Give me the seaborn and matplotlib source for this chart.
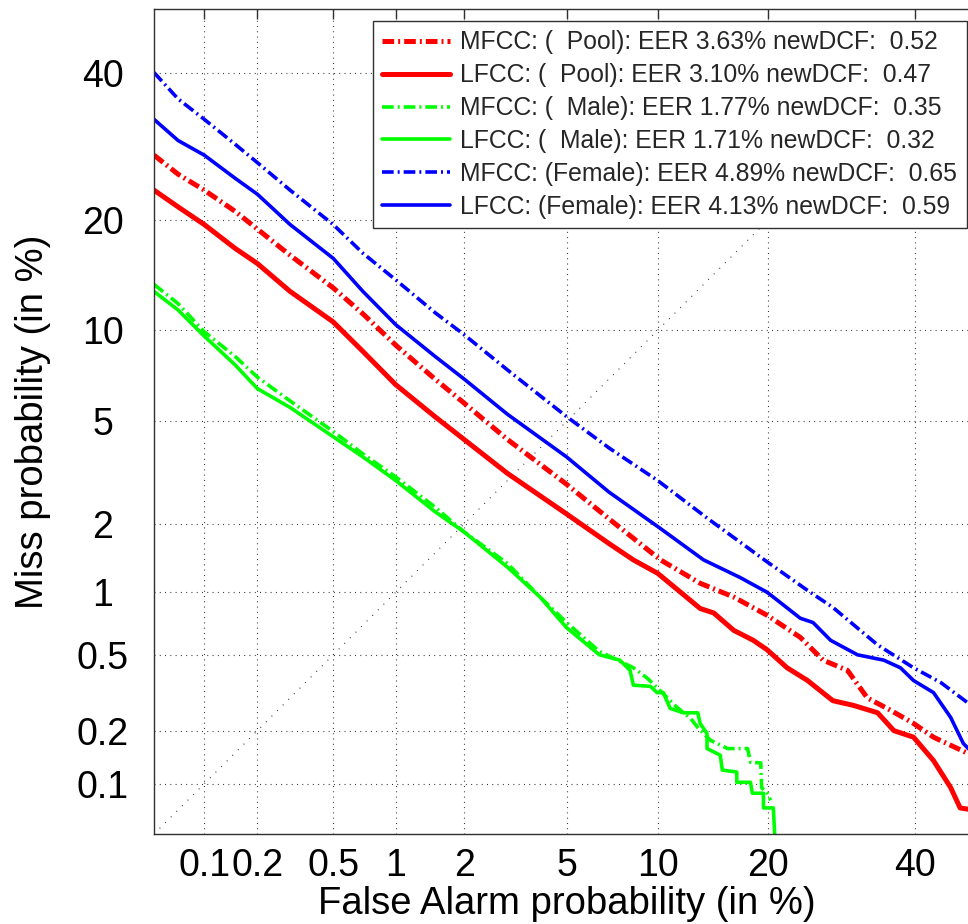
import math
import numpy as np
import matplotlib
matplotlib.use('Agg')
import matplotlib.pyplot as plt
import seaborn as sns

# DET curves: false alarm (%) and miss (%)
mfcc_pool_fa = [0.05, 0.07, 0.1, 0.15, 0.2, 0.3, 0.5, 0.7, 1.0, 1.5, 2.0, 3.0, 5.0, 7.0,
                10.2, 13.3, 16.4, 19.9, 23.8, 26.7, 30.0, 32.8, 36.2, 39.7, 42.8, 49.0]
mfcc_pool_miss = [28.0, 25.5, 23.5, 21.0, 19.0, 16.3, 13.3, 11.2, 9.0, 7.0, 5.8, 4.3, 2.9, 2.1,
                  1.40, 1.10, 0.95, 0.78, 0.61, 0.47, 0.417, 0.30, 0.258, 0.219, 0.184, 0.145]

lfcc_pool_fa = [0.05, 0.07, 0.1, 0.15, 0.2, 0.3, 0.5, 0.7, 1.0, 1.5, 2.0, 3.0, 5.0, 7.0, 8.4,
                10.0, 11.7, 13.3, 14.5, 16.4, 18.4, 19.9, 22.2, 24.7, 28.0, 30.8, 34.3, 36.7,
                39.7, 42.8, 45.5, 47.0, 49.0]
lfcc_pool_miss = [23.5, 21.5, 19.5, 17.0, 15.5, 13.0, 10.6, 8.6, 6.7, 5.2, 4.3, 3.2, 2.2, 1.65, 1.40,
                  1.22, 1.0, 0.84, 0.80, 0.66, 0.59, 0.53, 0.43, 0.37, 0.29, 0.274, 0.25, 0.20,
                  0.184, 0.136, 0.095, 0.072, 0.07]

mfcc_male_fa = [0.05, 0.07, 0.1, 0.15, 0.2, 0.3, 0.5, 0.7, 1.0, 1.5, 2.0, 3.0, 4.0, 5.0, 6.5,
                8.4, 9.3, 10.7, 11.4, 12.5, 13.1, 14.2, 15.8, 17.8, 18.1, 19.2, 19.3, 19.9, 20.3]
mfcc_male_miss = [13.6, 12.0, 9.9, 8.3, 7.1, 5.9, 4.6, 3.8, 3.1, 2.35, 1.85, 1.35, 0.95, 0.72, 0.52,
                  0.43, 0.38, 0.30, 0.268, 0.233, 0.208, 0.177, 0.159, 0.159, 0.133, 0.132, 0.095,
                  0.088, 0.08]

lfcc_male_fa = [0.05, 0.07, 0.1, 0.15, 0.2, 0.3, 0.5, 0.7, 1.0, 1.5, 2.0, 3.0, 4.0, 5.0, 6.5, 7.6,
                8.2, 8.4, 9.5, 9.96, 10.4, 10.9, 11.9, 13.1, 13.3, 13.9, 13.9, 15.1, 15.3, 16.7,
                16.7, 18.1, 18.3, 19.5, 19.5, 20.6, 20.8]
lfcc_male_miss = [13.0, 11.5, 9.6, 7.8, 6.5, 5.6, 4.4, 3.7, 3.0, 2.25, 1.85, 1.3, 0.95, 0.68, 0.50,
                  0.47, 0.417, 0.35, 0.345, 0.32, 0.32, 0.264, 0.25, 0.25, 0.219, 0.193, 0.159,
                  0.146, 0.12, 0.117, 0.102, 0.102, 0.088, 0.088, 0.072, 0.072, 0.045]

mfcc_female_fa = [0.05, 0.07, 0.1, 0.15, 0.2, 0.3, 0.5, 0.7, 1.0, 1.5, 2.0, 3.0, 5.0, 7.0, 10.0,
                  14.0, 19.6, 24.7, 28.0, 34.3, 39.7, 44.0, 49.0]
mfcc_female_miss = [40.0, 36.0, 33.0, 29.5, 27.0, 23.5, 19.5, 16.5, 14.0, 11.3, 9.7, 7.5, 5.2, 4.0,
                    3.0, 2.1, 1.40, 1.02, 0.85, 0.56, 0.43, 0.36, 0.27]

lfcc_female_fa = [0.05, 0.07, 0.1, 0.15, 0.2, 0.3, 0.5, 0.7, 1.0, 1.5, 2.0, 3.0, 5.0, 7.0, 10.0,
                  13.6, 17.0, 19.9, 20.6, 23.8, 25.4, 27.7, 31.4, 35.2, 37.7, 39.7, 42.8, 45.5,
                  47.5, 49.0]
lfcc_female_miss = [33.0, 30.0, 28.0, 25.0, 23.0, 19.5, 16.0, 13.0, 10.4, 8.3, 7.0, 5.3, 3.7, 2.7,
                    1.95, 1.40, 1.17, 1.0, 0.95, 0.755, 0.72, 0.59, 0.50, 0.47, 0.43, 0.37, 0.32,
                    0.236, 0.17, 0.15]

legend_labels = [
    'MFCC: (  Pool): EER 3.63% newDCF:  0.52',
    'LFCC: (  Pool): EER 3.10% newDCF:  0.47',
    'MFCC: (  Male): EER 1.77% newDCF:  0.35',
    'LFCC: (  Male): EER 1.71% newDCF:  0.32',
    'MFCC: (Female): EER 4.89% newDCF:  0.65',
    'LFCC: (Female): EER 4.13% newDCF:  0.59',
]

tick_vals = [0.1, 0.2, 0.5, 1, 2, 5, 10, 20, 40]
tick_labels = ['0.1', '0.2', '0.5', '1', '2', '5', '10', '20', '40']
axis_lims = [0.05, 50]

# normal deviate scale (percent <-> probit)
_z = np.linspace(-6, 6, 24001)
_p = 50.0 * (1.0 + np.array([math.erf(v / math.sqrt(2)) for v in _z]))


def probit(pct):
    return np.interp(pct, _p, _z)


def inv_probit(z):
    return np.interp(z, _z, _p)


sns.set_theme(style='white')
plt.rcParams['font.family'] = ['Liberation Sans', 'DejaVu Sans']
plt.rcParams['lines.scale_dashes'] = False

fig = plt.figure(figsize=(9.68, 9.24), dpi=100)
ax = fig.add_axes([154 / 968, 90 / 924, 825 / 968, 825 / 924])
ax.set_xscale('function', functions=(probit, inv_probit))
ax.set_yscale('function', functions=(probit, inv_probit))

dashdot = (0, (8.4, 2.9, 1.4, 2.9))
series = [
    (mfcc_pool_fa, mfcc_pool_miss, '#ff0000', 3.6, dashdot),
    (lfcc_pool_fa, lfcc_pool_miss, '#ff0000', 3.6, '-'),
    (mfcc_male_fa, mfcc_male_miss, '#00ff00', 2.6, dashdot),
    (lfcc_male_fa, lfcc_male_miss, '#00ff00', 2.6, '-'),
    (mfcc_female_fa, mfcc_female_miss, '#0000ff', 2.6, dashdot),
    (lfcc_female_fa, lfcc_female_miss, '#0000ff', 2.6, '-'),
]

# diagonal (EER line)
ax.plot(axis_lims, axis_lims, color='#303030', lw=0.8, linestyle=(0, (0.7, 5.0)), zorder=1)

for (fa, miss, col, lw, ls), lab in zip(series, legend_labels):
    sns.lineplot(x=fa, y=miss, ax=ax, color=col, lw=lw, linestyle=ls, label=lab,
                 estimator=None, sort=False)

ax.set_xlim(axis_lims)
ax.set_ylim(axis_lims)
ax.set_xticks(tick_vals)
ax.set_xticklabels(tick_labels)
ax.set_yticks(tick_vals)
ax.set_yticklabels(tick_labels)
ax.minorticks_off()
for t in ax.get_yticklabels():
    t.set_ha('center')

ax.grid(True, color='#303030', linestyle=(0, (0.7, 3.1)), linewidth=0.8)
ax.set_axisbelow(True)
ax.tick_params(axis='both', direction='in', length=7, width=1, color='#303030',
               top=True, right=True, labelsize=27, labelcolor='black')
ax.tick_params(axis='x', pad=10)
ax.tick_params(axis='y', pad=37)
for s in ax.spines.values():
    s.set_color('#303030')
    s.set_linewidth(1.0)

ax.set_xlabel('False Alarm probability (in %)', fontsize=27.5, color='black')
ax.set_ylabel('Miss probability (in %)', fontsize=27.5, color='black')
ax.xaxis.set_label_coords(0.5, -0.063)
ax.yaxis.set_label_coords(-0.125, 0.5)

handles, labs = ax.get_legend_handles_labels()
leg = ax.legend(handles, labs, loc='upper left', bbox_to_anchor=(373 / 968, 1 - 21 / 924),
                bbox_transform=fig.transFigure, fontsize=17.8, frameon=True, fancybox=False,
                framealpha=1, edgecolor='#303030', borderpad=0.38, labelspacing=0.36,
                handlelength=2.75, handletextpad=0.4, borderaxespad=0)
leg.get_frame().set_linewidth(1.0)

fig.savefig('out.png', dpi=100)
